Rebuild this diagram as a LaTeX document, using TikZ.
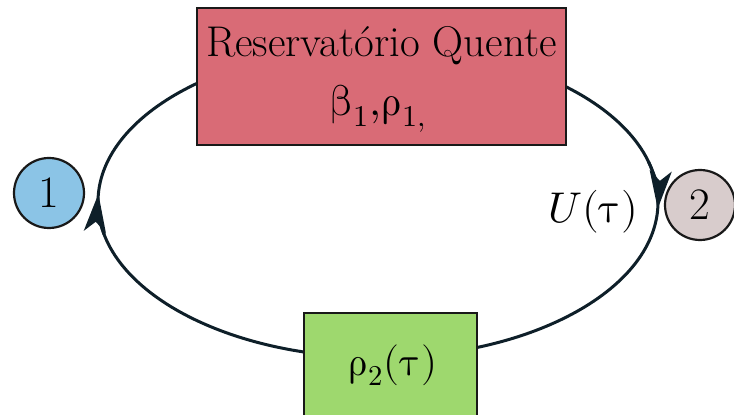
\documentclass[tikz,border=0pt]{standalone}
\usepackage{unicode-math}
\usetikzlibrary{arrows.meta}
\definecolor{hotred}{HTML}{D96B76}
\definecolor{coldgreen}{HTML}{9ED86E}
\definecolor{oneblue}{HTML}{8BC4E6}
\definecolor{twogray}{HTML}{D8CCCC}
\definecolor{loopline}{HTML}{0E1F29}
\tikzset{
  boxstyle/.style={draw=black!90, line width=2.2pt, inner sep=0pt},
  circstyle/.style={circle, draw=black!90, line width=2.2pt, minimum size=70pt, inner sep=0pt, font=\fontsize{45}{54}\selectfont},
  loopstyle/.style={draw=loopline, line width=3pt},
  tipstyle/.style={-{Stealth[length=38pt,width=22pt,inset=10pt]}},
  big/.style={font=\fontsize{43}{52}\selectfont},
  mid/.style={font=\fontsize{41}{49}\selectfont}
}
\begin{document}
\begin{tikzpicture}[x=1pt,y=1pt]
\clip (0,0) rectangle (734,415);
\useasboundingbox (0,0) rectangle (734,415);
% loop
\coordinate (c) at (378,213);
\draw[loopstyle] (c) ellipse [x radius=280, y radius=155.5];
\draw[loopstyle,tipstyle] ([shift={(c)}]192:280 and 155.5) arc[start angle=192, end angle=177, x radius=280, y radius=155.5];
\draw[loopstyle,tipstyle] ([shift={(c)}]15:280 and 155.5) arc[start angle=15, end angle=-2.5, x radius=280, y radius=155.5];
% boxes
\node[boxstyle, fill=hotred, minimum width=369pt, minimum height=137pt] (hot) at (381.5,338.5) {};
\node[big, anchor=base] (hottitle) at (381.5,358) {Reservatório Quente};
\node[big, anchor=base] (hotparams) at (378,299) {$\symup{\beta}_1{,}\symup{\rho}_{1,}$};
\node[boxstyle, fill=coldgreen, minimum width=173pt, minimum height=130pt, anchor=north] (cold) at (390.5,103) {};
\node[mid] (coldlabel) at (393,50) {$\symup{\rho}_2(\symup{\tau})$};
% circles
\node[circstyle, fill=oneblue] (one) at (49,222) {1};
\node[circstyle, fill=twogray] (two) at (700,210) {2};
\node[big, anchor=east] (ulabel) at (642,203) {$U(\symup{\tau})$};
\end{tikzpicture}
\end{document}
